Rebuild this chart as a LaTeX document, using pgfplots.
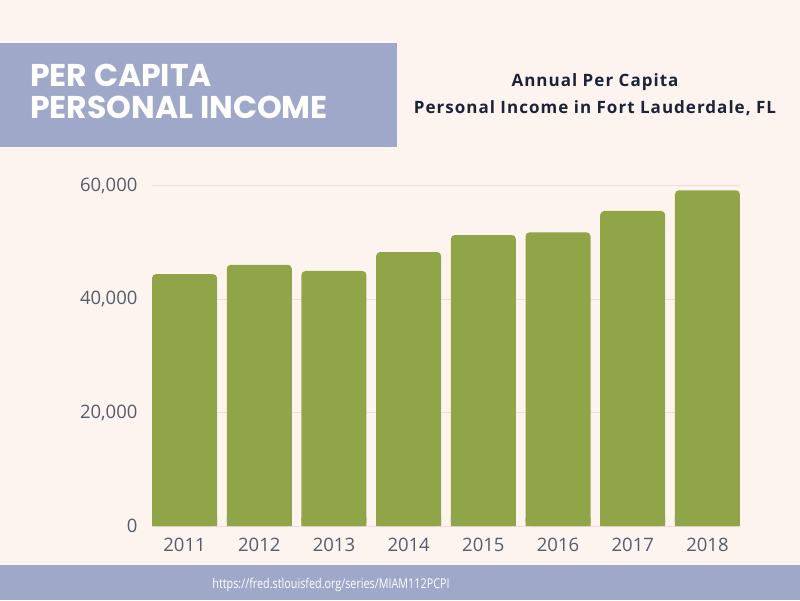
\documentclass[border=0pt]{standalone}
\usepackage{fontspec}
\setmainfont{Open Sans}
\newfontfamily\boxfont{Poppins}
\newfontfamily\titlefont[LetterSpace=6]{Open Sans}
\newfontfamily\urlfont[FakeStretch=0.8]{Open Sans}
\usepackage{pgfplots}
\usepackage{pgfplotstable}
\pgfplotsset{compat=1.18}
\definecolor{bgc}{HTML}{FDF4F0}
\definecolor{boxc}{HTML}{9FA8C8}
\definecolor{barc}{HTML}{8FA548}
\definecolor{tickc}{HTML}{555C6C}
\definecolor{titlec}{HTML}{1B2338}
\definecolor{gridc}{HTML}{EADFDB}
\pgfplotstableread{
x year v
0 2011 44450
1 2012 46100
2 2013 45000
3 2014 48350
4 2015 51350
5 2016 51830
6 2017 55590
7 2018 59240
}\datatable
\begin{document}
\begin{tikzpicture}[x=1pt,y=1pt]
\fill[bgc] (0,0) rectangle (800,600);
\fill[boxc] (0,453) rectangle (397,557);
\node[anchor=base west, inner sep=0, text=white, font=\boxfont\bfseries\fontsize{31.5}{31.5}\selectfont] at (30,513) {PER CAPITA};
\node[anchor=base west, inner sep=0, text=white, font=\boxfont\bfseries\fontsize{31.5}{31.5}\selectfont] at (30,481) {PERSONAL INCOME};
\node[anchor=base, inner sep=0, text=titlec, font=\titlefont\bfseries\fontsize{17}{17}\selectfont] at (595,513) {Annual Per Capita};
\node[anchor=base, inner sep=0, text=titlec, font=\titlefont\bfseries\fontsize{17}{17}\selectfont] at (595,486) {Personal Income in Fort Lauderdale, FL};
\fill[boxc] (0,0) rectangle (800,35);
\node[anchor=base, inner sep=0, text=white, font=\urlfont\fontsize{13.5}{13.5}\selectfont] at (331,12) {https://fred.stlouisfed.org/series/MIAM112PCPI};
\begin{axis}[
  at={(152pt,74pt)}, anchor=south west,
  scale only axis, width=588pt, height=340pt,
  xmin=-0.436, xmax=7.436, ymin=0, ymax=60000,
  axis line style={draw=none},
  ytick={0,20000,40000,60000},
  scaled y ticks=false,
  yticklabel={\pgfmathprintnumber[fixed,1000 sep={,},assume math mode=true]{\tick}},
  xtick=data,
  xticklabels={2011,2012,2013,2014,2015,2016,2017,2018},
  major tick length=0pt,
  tick label style={text=tickc, font=\fontsize{18.5}{18.5}\selectfont},
  yticklabel style={xshift=-11pt},
  xticklabel style={yshift=-9pt},
]
\draw[gridc, line width=1pt] (axis cs:-0.436,0) -- (axis cs:7.436,0);
\draw[gridc, line width=1pt] (axis cs:-0.436,20000) -- (axis cs:7.436,20000);
\draw[gridc, line width=1pt] (axis cs:-0.436,40000) -- (axis cs:7.436,40000);
\draw[gridc, line width=1pt] (axis cs:-0.436,60000) -- (axis cs:7.436,60000);
\addplot[ybar, bar width=65pt, fill=barc, draw=none, rounded corners=4pt] table[x=x, y=v] {\datatable};
\addplot[ybar, bar width=65pt, fill=barc, draw=none] table[x=x, y expr=\thisrow{v}*0+1500] {\datatable};
\end{axis}
\end{tikzpicture}
\end{document}
